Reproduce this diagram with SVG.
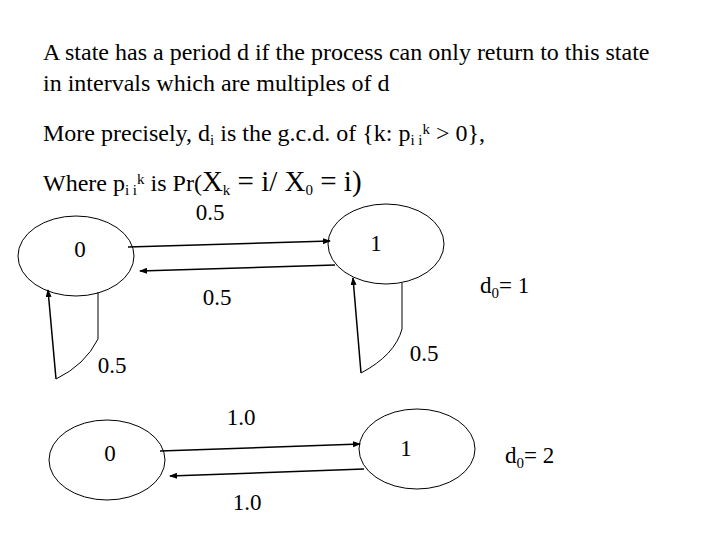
<svg xmlns="http://www.w3.org/2000/svg" width="720" height="540" viewBox="0 0 720 540">
<style>
text{font-family:"Liberation Serif",serif;font-size:23px;fill:#000}
.t{font-size:24px}
.big{font-size:29px}
.sub{font-size:15px}
ellipse{fill:none;stroke:#000;stroke-width:1}
.c{fill:none;stroke:#000;stroke-width:1.5}
.l{fill:none;stroke:#000;stroke-width:1}
</style>
<defs><marker id="a" markerWidth="8" markerHeight="6" refX="7" refY="3" orient="auto" markerUnits="userSpaceOnUse"><path d="M0,0L8,3L0,6z" fill="#000"/></marker></defs>
<rect width="720" height="540" fill="#fff"/>
<text class="t" x="43" y="60">A state has a period d if the process can only return to this state</text>
<text class="t" x="43" y="91">in intervals which are multiples of d</text>
<text class="t" x="43" y="141">More precisely, d<tspan class="sub" dy="4">i</tspan><tspan dy="-4"> is the g.c.d. of  {k: p</tspan><tspan class="sub" dy="4">i i</tspan><tspan class="sub" dy="-11">k</tspan><tspan dy="7"> &gt; 0},</tspan></text>
<text class="t" x="43" y="191">Where p<tspan class="sub" dy="4">i i</tspan><tspan class="sub" dy="-11">k</tspan><tspan dy="7"> is  Pr(</tspan><tspan class="big">X</tspan><tspan class="sub" dy="4">k</tspan><tspan class="big" dy="-4"> = i/ X</tspan><tspan class="sub" dy="4">0</tspan><tspan class="big" dy="-4"> = i)</tspan></text>
<g id="n0a"><ellipse cx="76" cy="256" rx="58" ry="40"/><text x="80" y="257" text-anchor="middle">0</text></g>
<g id="n1a"><ellipse cx="386" cy="244" rx="58" ry="40"/><text x="376" y="251" text-anchor="middle">1</text></g>
<g id="n0b"><ellipse cx="107" cy="460" rx="58" ry="40"/><text x="110" y="461" text-anchor="middle">0</text></g>
<g id="n1b"><ellipse cx="417" cy="449" rx="58" ry="40"/><text x="406" y="456" text-anchor="middle">1</text></g>
<g id="connectors">
<path class="c" d="M128,247L330,241" marker-end="url(#a)"/>
<path class="c" d="M335,265L140,271" marker-end="url(#a)"/>
<path class="l" d="M98,292L98,339Q85,365 56,379"/><path class="c" d="M56,379L48,290" marker-end="url(#a)"/>
<path class="l" d="M402,283L402,329Q395,355 361,373"/><path class="c" d="M361,373L353,278" marker-end="url(#a)"/>
<path class="c" d="M160,451L360,444" marker-end="url(#a)"/>
<path class="c" d="M364,469L170,476" marker-end="url(#a)"/>
</g>
<text x="210" y="220" text-anchor="middle">0.5</text>
<text x="217" y="305" text-anchor="middle">0.5</text>
<text x="112" y="373" text-anchor="middle">0.5</text>
<text x="424" y="361" text-anchor="middle">0.5</text>
<text x="480" y="293">d<tspan class="sub" dy="5">0</tspan><tspan dy="-5">= 1</tspan></text>
<text x="241" y="425" text-anchor="middle">1.0</text>
<text x="247" y="510" text-anchor="middle">1.0</text>
<text x="505" y="463">d<tspan class="sub" dy="5">0</tspan><tspan dy="-5">= 2</tspan></text>
</svg>
